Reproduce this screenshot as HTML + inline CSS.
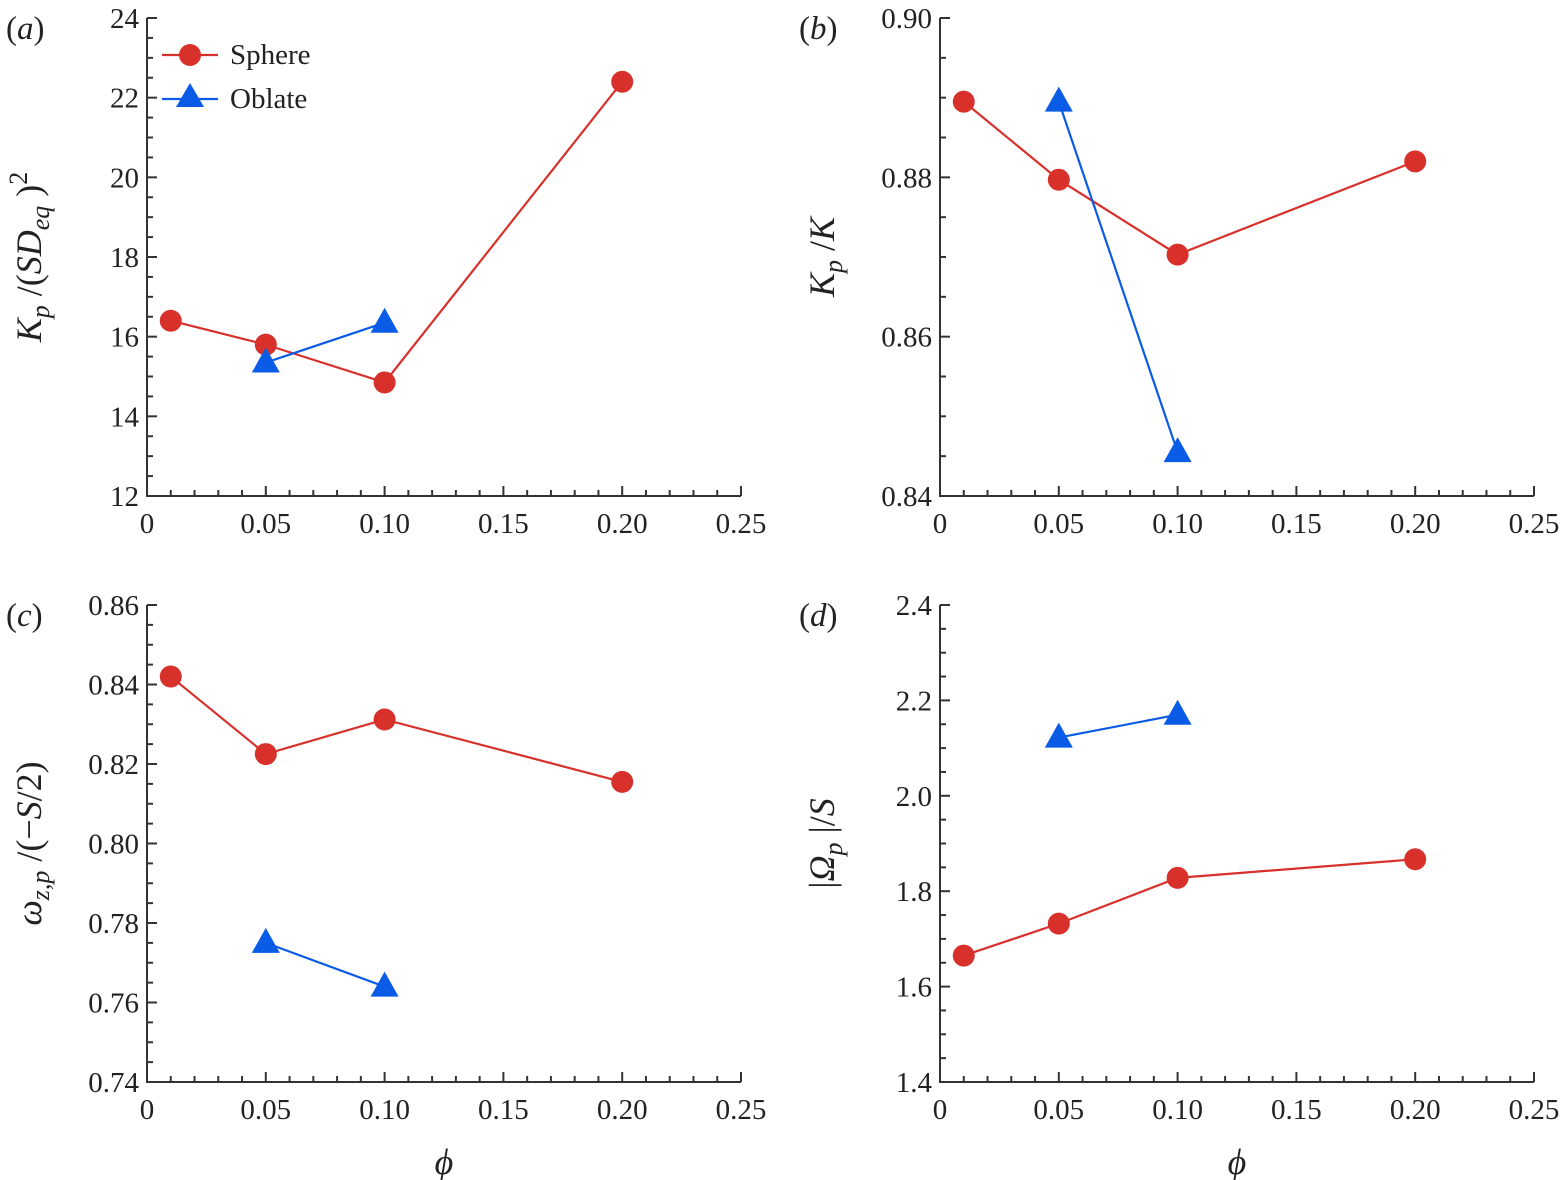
<!DOCTYPE html>
<html><head><meta charset="utf-8"><style>body{margin:0;background:#fff}svg{display:block}text{font-family:"Liberation Serif","DejaVu Serif",serif;fill:#222}</style></head>
<body>
<svg id="fig" width="1562" height="1180" viewBox="0 0 1562 1180" xmlns="http://www.w3.org/2000/svg"></svg>
<script>
const phiA=[0.01,0.05,0.10,0.20];
const phiB=[0.05,0.10];
const sphereA=[16.4,15.8,14.85,22.4];
const oblateA=[15.35,16.35];
const sphereB=[0.8895,0.8797,0.8703,0.882];
const oblateB=[0.8895,0.8455];
const sphereC=[0.842,0.8225,0.8312,0.8155];
const oblateC=[0.775,0.764];
const sphereD=[1.665,1.732,1.828,1.867];
const oblateD=[2.122,2.17];
const xTicks=["0","0.05","0.10","0.15","0.20","0.25"];
const yTicksA=["12","14","16","18","20","22","24"];
const yTicksB=["0.84","0.86","0.88","0.90"];
const yTicksC=["0.74","0.76","0.78","0.80","0.82","0.84","0.86"];
const yTicksD=["1.4","1.6","1.8","2.0","2.2","2.4"];
const NS="http://www.w3.org/2000/svg";
const svg=document.getElementById('fig');
const RED="#d8302a",BLUE="#0a5be6";
function mk(t,a,p){const e=document.createElementNS(NS,t);for(const k in a)e.setAttribute(k,a[k]);(p||svg).appendChild(e);return e;}
function panel(id,L,T,R,B,yt,yMinorN,sph,obl,letter,ylabelFn,xlabel){
  const g=mk('g',{});
  
  
  const y0=parseFloat(yt[0]),y1=parseFloat(yt[yt.length-1]);
  const xs=v=>L+(v-0)/(0.25)*(R-L);
  const ys=v=>B-(v-y0)/(y1-y0)*(B-T);
  const ax=mk('path',{d:`M${L},${T}V${B}H${R}`,fill:'none',stroke:'#333','stroke-width':2},g);
  
  
  for(let i=0;i<=25;i++){const x=xs(i*0.01);const maj=i%5==0;mk('line',{x1:x,x2:x,y1:B,y2:B-(maj?10:6),stroke:'#333','stroke-width':2},g);}
  xTicks.forEach((t,i)=>{const e=mk('text',{x:xs(i*0.05),y:B+37,'text-anchor':'middle','font-size':29},g);e.textContent=t;
    });
  const n=yt.length-1;const step=(y1-y0)/n;
  for(let i=0;i<=n*(yMinorN+1);i++){const v=y0+i*step/(yMinorN+1);const y=ys(v);const maj=i%(yMinorN+1)==0;
    mk('line',{x1:L,x2:L+(maj?10:6),y1:y,y2:y,stroke:'#333','stroke-width':2},g);}
  yt.forEach((t,i)=>{const e=mk('text',{x:L-8,y:ys(parseFloat(t))+10,'text-anchor':'end','font-size':29},g);e.textContent=t;
    });
  const line=(xv,yv,c,name)=>{const p=mk('polyline',{points:xv.map((x,i)=>xs(x)+','+ys(yv[i])).join(' '),fill:'none',stroke:c,'stroke-width':2.2},g);
    };
  line(phiA,sph,RED,'sphere');line(phiB,obl,BLUE,'oblate');
  phiA.forEach((x,i)=>{const c=mk('circle',{cx:xs(x),cy:ys(sph[i]),r:11,fill:RED},g);});
  phiB.forEach((x,i)=>{const cx=xs(x),cy=ys(obl[i]);const p=mk('polygon',{points:`${cx},${cy-15} ${cx-14},${cy+10} ${cx+14},${cy+10}`,fill:BLUE},g);});
  const lt=mk('text',{x:L-141,y:T+21,'font-size':33},g);lt.innerHTML='(<tspan font-style="italic">'+letter+'</tspan>)';
  
  const yl=mk('text',{transform:`translate(${L-106},${(T+B)/2}) rotate(-90)`,'text-anchor':'middle','font-size':36},g);yl.innerHTML=ylabelFn;
  
  if(xlabel){const xl=mk('text',{x:(L+R)/2,y:B+92,'text-anchor':'middle','font-size':36,'font-style':'italic'},g);xl.textContent='ϕ';
    }
  return g;
}
const sub=(s)=>`<tspan font-size="26" dy="8" font-style="italic">${s}</tspan><tspan dy="-8"> </tspan>`;
panel('a',147,18,741,496,yTicksA,3,sphereA,oblateA,'a',`<tspan font-style="italic">K</tspan>${sub('p')}/(<tspan font-style="italic">SD</tspan>${sub('eq')})<tspan font-size="26" dy="-14">2</tspan>`,false);
panel('b',940,18,1534,496,yTicksB,3,sphereB,oblateB,'b',`<tspan font-style="italic">K</tspan>${sub('p')}/<tspan font-style="italic">K</tspan>`,false);
panel('c',147,605,741,1082,yTicksC,3,sphereC,oblateC,'c',`<tspan font-style="italic">ω</tspan>${sub('z,p')}/(−<tspan font-style="italic">S</tspan>/2)`,true);
panel('d',940,605,1534,1082,yTicksD,3,sphereD,oblateD,'d',`|<tspan font-style="italic">Ω</tspan>${sub('p')}|/<tspan font-style="italic">S</tspan>`,true);
const lg=mk('g',{});


mk('line',{x1:162,x2:218,y1:55,y2:55,stroke:RED,'stroke-width':2.2},lg);
mk('circle',{cx:190,cy:55,r:11,fill:RED},lg);
mk('line',{x1:162,x2:218,y1:99,y2:99,stroke:BLUE,'stroke-width':2.2},lg);
mk('polygon',{points:'190,83 176,107 204,107',fill:BLUE},lg);
const t1=mk('text',{x:230,y:64,'font-size':29},lg);t1.textContent='Sphere';

const t2=mk('text',{x:230,y:108,'font-size':29},lg);t2.textContent='Oblate';

</script>
</body></html>
